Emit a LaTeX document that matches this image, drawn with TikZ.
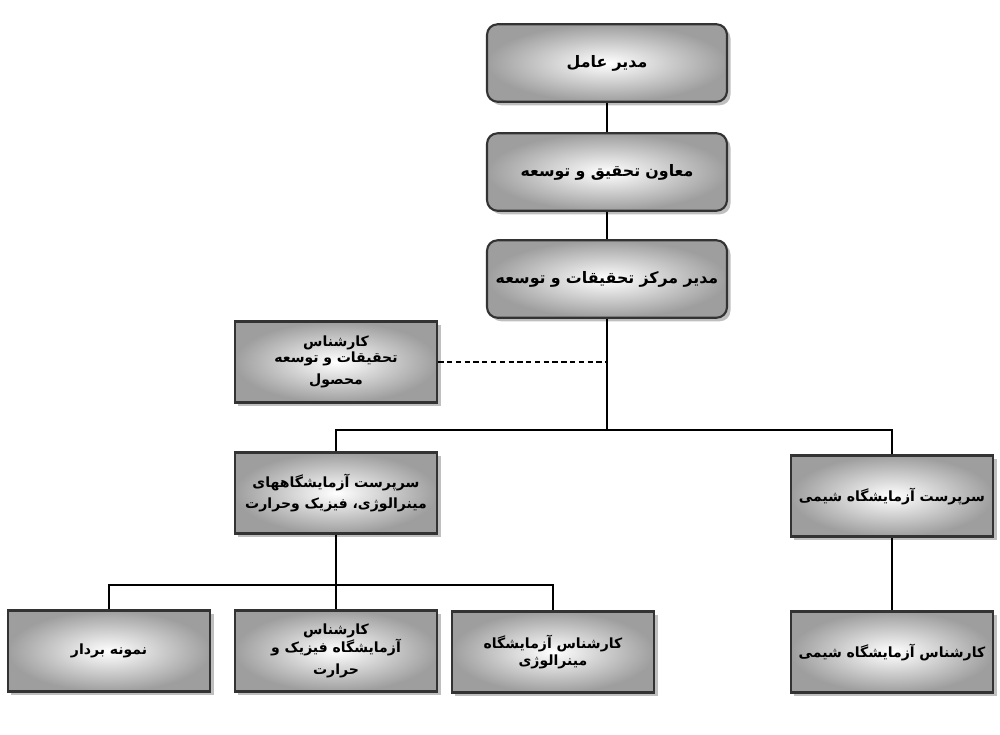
\documentclass[tikz,border=0pt]{standalone}
\usepackage{fontspec}
\newfontfamily\arabicfont[Script=Arabic]{DejaVu Sans}
\TeXXeTstate=1
\usetikzlibrary{positioning,shadows}

\newcommand{\fa}[1]{\beginR #1\endR}

\begin{document}
\begin{tikzpicture}[
        x=0.02cm, y=-0.02cm,
        unit/.style={rectangle, draw=black!80, line width=1.2pt, inner color=white, outer color=black!38, drop shadow={opacity=0.5, shadow xshift=2pt, shadow yshift=-2pt}, inner xsep=0.1cm, text width=3.85cm, minimum height=1.62cm, align=center, font=\arabicfont\bfseries\footnotesize},
        head/.style={unit, rounded corners=6pt, text width=4.6cm, minimum height=1.55cm, font=\arabicfont\bfseries\small},
        link/.style={black, line width=1.3pt}
    ]
        \useasboundingbox (0,0) rectangle (1000,734);

        % Top of the chart
        \node[head] (ceo) at (607,63) {\fa{مدیر عامل}};
        \node[head] (vp) at (607,172) {\fa{معاون تحقیق و توسعه}};
        \node[head] (rd) at (607,279) {\fa{مدیر مرکز تحقیقات و توسعه}};

        % Staff and supervisors
        \node[unit] (expert) at (336,362) {\fa{کارشناس تحقیقات و توسعه}\\[3pt]\fa{محصول}};
        \node[unit] (labsup) at (336,493) {\fa{سرپرست آزمایشگاههای}\\[3pt]\fa{مینرالوژی، فیزیک وحرارت}};
        \node[unit] (chemsup) at (892,496) {\fa{سرپرست آزمایشگاه شیمی}};

        % Bottom row
        \node[unit] (sampler) at (109,651) {\fa{نمونه بردار}};
        \node[unit] (physics) at (336,651) {\fa{کارشناس آزمایشگاه فیزیک و}\\[3pt]\fa{حرارت}};
        \node[unit] (mineral) at (553,652) {\fa{کارشناس آزمایشگاه مینرالوژی}};
        \node[unit] (chem) at (892,652) {\fa{کارشناس آزمایشگاه شیمی}};

        % Connections
        \coordinate (trunk) at (607,430);
        \coordinate (fork) at (336,585);
        \draw[link] (ceo) -- (vp);
        \draw[link] (vp) -- (rd);
        \draw[link] (rd) -- (trunk);
        \draw[link, densely dashed, line width=0.8pt] (expert.east) -- (expert.east -| rd);
        \draw[link] (labsup.north) |- (trunk) -| (chemsup.north);
        \draw[link] (labsup) -- (fork);
        \draw[link] (sampler.north) |- (fork) -| (mineral.north);
        \draw[link] (fork) -- (physics);
        \draw[link] (chemsup) -- (chem);
    \end{tikzpicture}
\end{document}
